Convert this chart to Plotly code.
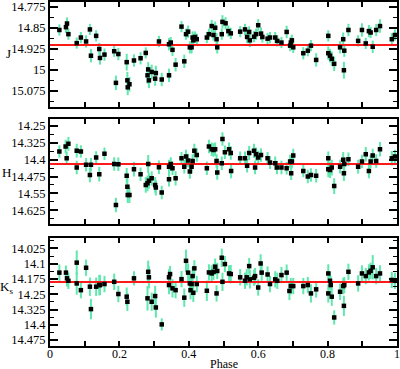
import plotly.graph_objects as go

# ---------------- data ----------------
j_phase = [0.027,0.046,0.049,0.053,0.077,0.089,0.104,0.115,0.118,0.133,0.142,0.144,0.157,0.185,0.190,
           0.197,0.221,0.223,0.224,0.229,0.242,0.261,0.276,0.281,0.283,0.285,0.293,0.303,0.305,0.314,
           0.322,0.343,0.343,0.348,0.353,0.362,0.379,0.387,0.392,0.398,0.403,0.408,0.411,0.413,0.418,0.423,
           0.452,0.458,0.466,0.471,0.476,0.480,0.482,0.495,0.497,0.506,0.514,0.521,0.548,0.562,0.568,
           0.574,0.576,0.588,0.594,0.600,0.608,0.612,0.627,0.634,0.649,0.655,0.667,0.682,0.692,0.694,
           0.697,0.701,0.730,0.743,0.752,0.767,0.802,0.802,0.807,0.812,0.819,0.836,0.845,0.847,0.848,
           0.860,0.888,0.899,0.910,0.919,0.924,0.930,0.940,0.951,0.985,0.994]
j_mag = [14.858,14.848,14.835,14.873,14.905,14.885,14.899,14.856,14.950,14.879,14.926,14.958,14.946,14.934,15.047,
         14.944,14.973,15.038,15.063,15.052,14.967,14.959,14.940,15.020,14.999,15.038,15.008,15.032,15.012,14.899,
         15.035,15.020,14.909,14.903,14.929,14.982,14.846,14.970,14.873,14.864,14.920,14.920,14.885,14.895,14.883,14.891,
         14.885,14.873,14.844,14.876,14.850,14.891,14.920,14.873,14.829,14.834,14.862,14.870,14.864,14.856,14.883,
         14.865,14.895,14.882,14.873,14.841,14.871,14.883,14.889,14.885,14.885,14.897,14.903,14.865,14.914,14.903,
         14.895,14.920,14.941,14.932,14.914,14.965,14.879,14.941,14.950,14.961,14.979,14.920,14.891,15.002,14.932,
         14.858,14.897,14.858,14.906,14.862,14.867,14.918,14.858,14.844,14.891,14.876]
j_err = [0.020,0.020,0.022,0.020,0.020,0.020,0.022,0.020,0.024,0.020,0.022,0.024,0.022,0.020,0.026,
         0.022,0.030,0.030,0.028,0.026,0.022,0.022,0.020,0.030,0.026,0.028,0.026,0.026,0.026,0.020,
         0.024,0.024,0.022,0.020,0.022,0.024,0.020,0.024,0.020,0.022,0.022,0.022,0.022,0.022,0.020,0.020,
         0.020,0.020,0.022,0.020,0.022,0.022,0.022,0.020,0.024,0.022,0.020,0.020,0.020,0.020,0.022,
         0.020,0.024,0.020,0.020,0.022,0.022,0.020,0.020,0.020,0.020,0.020,0.020,0.022,0.020,0.020,
         0.020,0.020,0.022,0.020,0.020,0.024,0.020,0.024,0.024,0.026,0.026,0.022,0.024,0.030,0.022,
         0.022,0.020,0.024,0.020,0.022,0.020,0.022,0.022,0.024,0.022,0.020]
j_mean = 14.912

h_phase = [0.027,0.045,0.048,0.053,0.077,0.077,0.089,0.104,0.115,0.118,0.133,0.142,0.157,0.185,0.190,
           0.197,0.221,0.223,0.224,0.229,0.242,0.261,0.276,0.281,0.283,0.285,0.293,0.303,0.305,0.314,
           0.322,0.343,0.343,0.348,0.353,0.362,0.379,0.387,0.392,0.398,0.403,0.408,0.411,0.416,0.423,
           0.452,0.458,0.466,0.471,0.476,0.480,0.482,0.495,0.497,0.504,0.516,0.521,0.522,0.548,0.562,
           0.568,0.574,0.588,0.591,0.594,0.600,0.608,0.627,0.634,0.649,0.654,0.667,0.682,0.692,0.695,
           0.697,0.701,0.730,0.743,0.752,0.767,0.802,0.802,0.807,0.812,0.819,0.836,0.845,0.847,0.848,
           0.860,0.888,0.899,0.910,0.919,0.924,0.930,0.940,0.951,0.985,0.994]
h_mag = [14.364,14.342,14.394,14.330,14.435,14.360,14.364,14.423,14.468,14.423,14.391,14.465,14.374,14.419,14.601,
         14.420,14.472,14.520,14.557,14.557,14.443,14.465,14.512,14.505,14.419,14.494,14.483,14.512,14.524,14.434,
         14.546,14.431,14.487,14.419,14.438,14.483,14.394,14.431,14.386,14.404,14.453,14.431,14.406,14.360,14.379,
         14.438,14.342,14.354,14.357,14.354,14.406,14.457,14.416,14.308,14.367,14.354,14.371,14.450,14.394,14.394,
         14.427,14.371,14.361,14.435,14.376,14.391,14.379,14.394,14.413,14.416,14.435,14.435,14.438,14.408,14.460,
         14.408,14.382,14.450,14.475,14.468,14.471,14.394,14.443,14.446,14.435,14.517,14.431,14.401,14.460,14.419,
         14.398,14.431,14.408,14.376,14.450,14.408,14.382,14.406,14.354,14.394,14.386]
h_err = [0.028,0.030,0.030,0.030,0.030,0.030,0.028,0.030,0.032,0.030,0.028,0.032,0.028,0.030,0.032,
         0.030,0.035,0.038,0.035,0.035,0.032,0.030,0.035,0.035,0.040,0.035,0.032,0.035,0.035,0.030,
         0.030,0.030,0.032,0.030,0.030,0.032,0.028,0.030,0.030,0.030,0.032,0.030,0.030,0.030,0.030,
         0.030,0.030,0.030,0.030,0.030,0.030,0.032,0.030,0.030,0.030,0.030,0.030,0.032,0.030,0.030,
         0.030,0.032,0.032,0.030,0.030,0.030,0.030,0.028,0.028,0.030,0.030,0.030,0.028,0.030,0.030,
         0.030,0.030,0.028,0.030,0.030,0.030,0.030,0.035,0.035,0.035,0.035,0.030,0.035,0.035,0.030,
         0.030,0.030,0.030,0.032,0.032,0.030,0.030,0.030,0.032,0.032,0.030]
h_mean = 14.419

k_phase = [0.027,0.046,0.049,0.053,0.077,0.077,0.089,0.104,0.115,0.118,0.133,0.142,0.144,0.157,0.185,
           0.197,0.221,0.223,0.242,0.281,0.283,0.285,0.293,0.303,0.305,0.322,0.343,0.346,0.343,0.353,
           0.362,0.379,0.387,0.392,0.398,0.403,0.405,0.408,0.411,0.413,0.416,0.423,
           0.452,0.458,0.466,0.471,0.476,0.480,0.482,0.495,0.497,0.504,0.516,0.521,0.548,0.562,0.567,
           0.574,0.576,0.588,0.591,0.600,0.607,0.610,0.627,0.634,0.649,0.655,0.667,0.682,0.690,0.694,
           0.701,0.730,0.743,0.752,0.767,0.802,0.802,0.807,0.809,0.812,0.819,0.836,0.845,0.847,0.848,
           0.860,0.888,0.899,0.910,0.919,0.924,0.930,0.940,0.951,0.985,0.994]
k_mag = [14.144,14.144,14.172,14.184,14.095,14.197,14.230,14.120,14.213,14.323,14.213,14.205,14.205,14.200,14.189,
         14.249,14.262,14.287,14.172,14.270,14.140,14.167,14.287,14.259,14.315,14.398,14.167,14.151,14.205,14.221,
         14.230,14.176,14.267,14.086,14.144,14.197,14.230,14.200,14.161,14.243,14.123,14.200,
         14.233,14.143,14.148,14.140,14.115,14.246,14.136,14.071,14.189,14.102,14.148,14.151,14.167,14.184,14.167,
         14.112,14.177,14.169,14.161,14.217,14.099,14.144,14.153,14.200,14.177,14.184,14.156,14.144,14.234,14.210,
         14.210,14.210,14.205,14.246,14.226,14.148,14.246,14.184,14.205,14.262,14.364,14.238,14.210,14.307,14.205,
         14.140,14.197,14.148,14.161,14.143,14.135,14.118,14.161,14.148,14.180,14.184]
k_err = [0.040,0.035,0.040,0.040,0.060,0.055,0.040,0.040,0.045,0.050,0.045,0.050,0.050,0.040,0.040,
         0.040,0.045,0.045,0.035,0.060,0.055,0.055,0.045,0.050,0.050,0.030,0.040,0.040,0.045,0.045,
         0.040,0.040,0.045,0.055,0.045,0.045,0.045,0.040,0.045,0.045,0.040,0.040,
         0.050,0.040,0.040,0.040,0.040,0.040,0.040,0.045,0.045,0.040,0.040,0.045,0.040,0.040,0.040,
         0.040,0.045,0.040,0.040,0.040,0.045,0.040,0.040,0.040,0.040,0.040,0.040,0.040,0.045,0.040,
         0.040,0.040,0.040,0.045,0.040,0.045,0.045,0.045,0.045,0.045,0.035,0.040,0.040,0.050,0.040,
         0.040,0.040,0.040,0.040,0.040,0.040,0.060,0.040,0.040,0.040,0.040]
k_mean = 14.19

x_tickvals = [0, 0.2, 0.4, 0.6, 0.8, 1]
x_ticktext = ["0", "0.2", "0.4", "0.6", "0.8", "1"]
j_ticks = [14.775, 14.85, 14.925, 15.0, 15.075]
j_ticktext = ["14.775", "14.85", "14.925", "15", "15.075"]
h_ticks = [14.25, 14.325, 14.4, 14.475, 14.55, 14.625]
h_ticktext = ["14.25", "14.325", "14.4", "14.475", "14.55", "14.625"]
k_ticks = [14.025, 14.1, 14.175, 14.25, 14.325, 14.4, 14.475]
k_ticktext = ["14.025", "14.1", "14.175", "14.25", "14.325", "14.4", "14.475"]

# ---------------- figure ----------------
FONT = "Liberation Serif"
ERR_COLOR = "#5fe8ae"

# (suffix, phase, mag, err, mean, y range, tickvals, ticktext, domain, title, title x, title y)
panels = [
    ("", j_phase, j_mag, j_err, j_mean, [15.133, 14.758], j_ticks, j_ticktext, [0.695, 1.0], "J", -0.108, 0.85),
    ("2", h_phase, h_mag, h_err, h_mean, [14.685, 14.218], h_ticks, h_ticktext, [0.355, 0.661], "H", -0.108, 0.503),
    ("3", k_phase, k_mag, k_err, k_mean, [14.504, 13.974], k_ticks, k_ticktext, [0.0, 0.314],
     "K<sub style='font-size:9px'>s</sub>", -0.100, 0.169),
]

fig = go.Figure()
layout = {}
for idx, (s, ph, mg, er, mean, yr, tv, tt, dom, name, tx, ty) in enumerate(panels):
    xa, ya = "x" + s, "y" + s
    fig.add_trace(go.Scatter(x=ph, y=mg, mode="markers", xaxis=xa, yaxis=ya,
                             marker=dict(size=4, color="rgba(0,0,0,0)"),
                             error_y=dict(type="data", array=er, color=ERR_COLOR, thickness=2, width=0),
                             showlegend=False, hoverinfo="skip"))
    fig.add_trace(go.Scatter(x=[0, 1], y=[mean, mean], mode="lines", xaxis=xa, yaxis=ya,
                             line=dict(color="#ff1a1a", width=2), showlegend=False))
    fig.add_trace(go.Scatter(x=ph, y=mg, mode="markers", xaxis=xa, yaxis=ya,
                             marker=dict(size=4.5, color="black", symbol="square"),
                             showlegend=False))
    last = (idx == 2)
    layout["xaxis" + s] = dict(
        domain=[0, 1], anchor=ya, range=[0, 1], showgrid=False, zeroline=False, automargin=False,
        showline=True, linecolor="black", linewidth=2, mirror="allticks",
        ticks="inside", ticklen=5, tickwidth=1.5, tickcolor="black",
        tickvals=x_tickvals, ticktext=x_ticktext, showticklabels=last, ticklabeloverflow="allow",
        ticklabelstandoff=-4,
        minor=dict(dtick=0.1, tick0=0, ticks="inside", ticklen=5, tickwidth=1.5, tickcolor="black"),
        tickfont=dict(family=FONT, size=12, color="black"),
    )
    layout["yaxis" + s] = dict(
        domain=dom, anchor=xa, range=yr, showgrid=False, zeroline=False, automargin=False,
        showline=True, linecolor="black", linewidth=2, mirror="allticks",
        ticks="inside", ticklen=8, tickwidth=1.5, tickcolor="black",
        tickvals=tv, ticktext=tt, ticklabeloverflow="allow",
        minor=dict(tick0=tv[0], dtick=0.0375, ticks="inside", ticklen=4, tickwidth=1.2, tickcolor="black"),
        tickfont=dict(family=FONT, size=12.5, color="black"),
    )

annotations = []
for (s, ph, mg, er, mean, yr, tv, tt, dom, name, tx, ty) in panels:
    annotations.append(dict(text=name, xref="paper", yref="paper", x=tx, y=ty,
                            xanchor="right", yanchor="middle",
                            showarrow=False, font=dict(family=FONT, size=13, color="black")))
annotations.append(dict(text="Phase", xref="paper", yref="paper", x=0.5, y=-0.027,
                        xanchor="center", yanchor="top", showarrow=False,
                        font=dict(family=FONT, size=12, color="black")))

fig.update_layout(
    width=400, height=369,
    margin=dict(l=50, r=3, t=2, b=23, autoexpand=False),
    plot_bgcolor="white", paper_bgcolor="white",
    annotations=annotations,
    **layout,
)

fig.write_html("out.html", config={"displayModeBar": False},
               post_script="document.body.style.margin='0';document.body.style.padding='0';"
                           "document.documentElement.style.overflow='hidden';")
